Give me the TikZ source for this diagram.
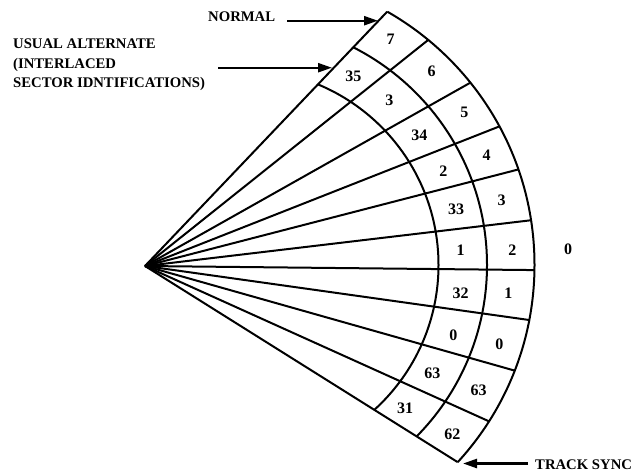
\documentclass[tikz,border=0pt]{standalone}
\usepackage{fontspec}
\setmainfont{Liberation Serif}
\usetikzlibrary{arrows.meta,calc}
\begin{document}
\begin{tikzpicture}[x=1pt,y=-1pt,
  fan/.style={line width=2pt},
  lab/.style={inner sep=0pt, font=\fontsize{16}{19}\selectfont\bfseries},
  txt/.style={inner sep=0pt, anchor=base west, font=\fontsize{14.7}{18}\selectfont\bfseries},
  arr/.style={line width=2.4pt, -{Triangle[length=14pt,width=9pt]}}]
\useasboundingbox (0,0) rectangle (639,472);
\coordinate (A) at (145,266);
\coordinate (O) at (243,265);
% arcs clipped to the wedge
\begin{scope}
\clip (A) -- ($(A)+(-46.4:700)$) -- ($(A)+(-20:700)$) -- ($(A)+(5:700)$) -- ($(A)+(32.1:700)$) -- cycle;
\foreach \r in {195.5,244,291.5} \draw[fan] (O) circle (\r);
\end{scope}
% radial lines from apex to outer arc
\foreach \th in {-46.4,-38.6,-29.4,-21.5,-14.5,-6.76,0.6,8.0,15.8,24.3,32.1} {
  \pgfmathsetmacro\du{-0.98*cos(\th)+0.01*sin(\th)}
  \pgfmathsetmacro\tt{100*(0-\du+sqrt(\du*\du-0.9605+8.497225))}
  \draw[fan] (A) -- ++(\th:\tt);
}
% sector numbers
\foreach \x/\y/\n [count=\i] in {390.7/39.3/7, 353.3/76/35, 431.7/71/6, 389.3/100.7/3,
  464.3/112.7/5, 419.3/135/34, 486.7/155/4, 443.3/170.7/2, 501.7/200/3, 456/209.3/33,
  460.7/250/1, 512.3/250/2, 460.7/293.3/32, 508.3/293.3/1, 453.3/335/0, 499.3/344/0,
  432.3/373.3/63, 478.7/390/63, 405/408.3/31, 452.3/434/62}
  \node[lab] (n\i) at (\x,\y) {\n};
\node[lab] (zero) at (568,249) {0};
% texts
\node[txt] (normal) at (208,21.7) {NORMAL};
\node[txt] (usual) at (13,48.3) {USUAL ALTERNATE};
\node[txt] (inter) at (13,68) {(INTERLACED};
\node[txt] (sector) at (13,87.3) {SECTOR IDNTIFICATIONS)};
\node[txt] (track) at (535,469.3) {TRACK SYNC};
% arrows
\coordinate (nt) at (287,20.7); \coordinate (nh) at (378,20.7);
\coordinate (at) at (218,67.7); \coordinate (ah) at (332,67.7);
\coordinate (tt) at (528,463.5); \coordinate (th) at (463,463.5);
\draw[arr] (nt) -- (nh);
\draw[arr] (at) -- (ah);
\draw[arr] (tt) -- (th);
\end{tikzpicture}
\end{document}
